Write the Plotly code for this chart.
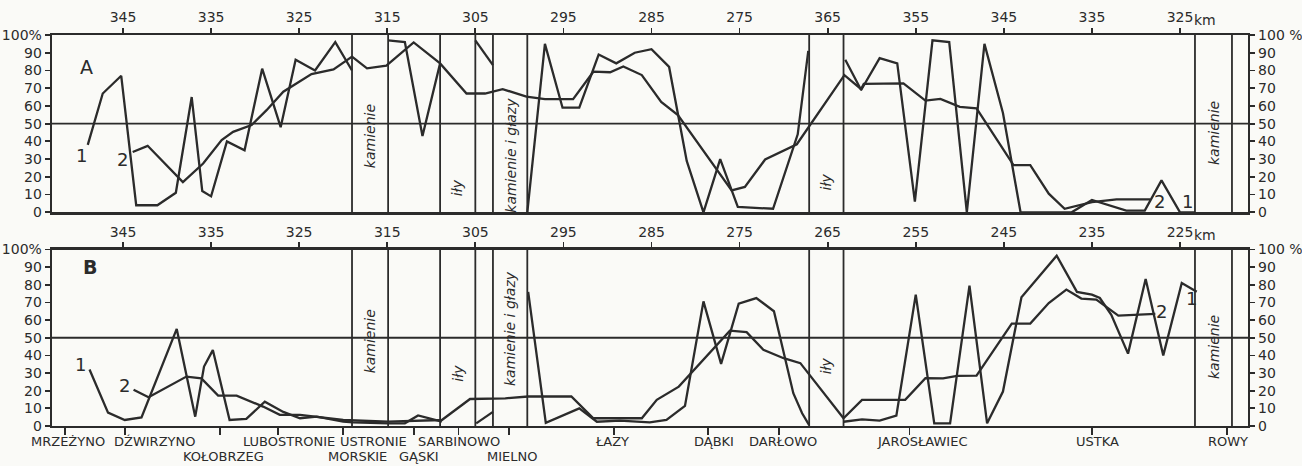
import plotly.graph_objects as go

# ---------------- data ----------------
km_ticks = [345, 335, 325, 315, 305, 295, 285, 275, 265, 255, 245, 235, 225]
km_text_A = ["345", "335", "325", "315", "305", "295", "285", "275", "365", "355", "345", "335", "325"]
km_text_B = ["345", "335", "325", "315", "305", "295", "285", "275", "265", "255", "245", "235", "225"]

pct_ticks = [0, 10, 20, 30, 40, 50, 60, 70, 80, 90, 100]
pct_left = ["0", "10", "20", "30", "40", "50", "60", "70", "80", "90", "100%"]
pct_right = ["0", "10", "20", "30", "40", "50", "60", "70", "80", "90", "100 %"]

zone_edges = [319.0, 314.9, 309.0, 305.0, 303.0, 299.1, 267.1, 263.2, 223.3, 219.1]
zone_names = ["kamienie", "iły", "kamienie i głazy", "iły", "kamienie"]
zone_label_y_A = [43, 14, 32, 17, 45]
zone_label_y_B = [48, 30, 55, 34, 45]

# Panel A, curve 1 (broken at zones)
a1_km = [349.0, 347.3, 345.2, 343.5, 341.1, 339.0, 337.2, 336.0, 335.0, 333.2, 331.2, 329.2, 327.1,
         325.4, 323.2, 320.9, 319.0, None,
         314.9, 313.0, 311.0, 309.0, None,
         305.0, 303.0, None,
         299.1, 297.1, 295.1, 293.2, 291.0, 289.0, 286.9, 285.0, 283.0, 281.0, 279.1, 277.2, 275.2,
         271.2, 268.4, 267.2, None,
         263.0, 261.2, 259.1, 257.1, 255.1, 253.1, 251.2, 249.2, 247.2, 245.1, 243.1, 237.3, 235.0,
         233.0, 231.1, 229.0, 227.1, 225.0, 223.3]
a1_pct = [38, 67, 77, 4, 4, 11, 65, 12, 9, 40, 35, 81, 48,
          86, 80, 96, 80, None,
          97, 96, 43, 84, None,
          97, 83, None,
          0, 95, 59, 59, 89, 84, 90, 92, 82, 29, 0, 30, 3,
          2, 44, 91, None,
          86, 69, 87, 84, 6, 97, 96, 0, 95, 56, 0, 0, 7,
          4, 1, 1, 18, 0, 0]

# Panel A, curve 2
a2_km = [343.9, 342.2, 338.2, 335.9, 333.8, 332.5, 330.4, 328.7, 326.8, 324.7, 323.6, 321.1, 319.0,
         317.3, 315.1, 312.0, 309.0, 306.0, 303.9, 301.9, 299.2, 297.1, 293.9, 291.6, 289.7, 288.2,
         286.1, 283.9, 282.0, 275.9, 274.4, 272.1, 268.5, 263.1, 261.2, 260.9, 256.4, 253.9, 252.2,
         250.0, 248.1, 243.9, 242.0, 239.9, 238.1, 235.0, 232.2, 228.4]
a2_pct = [34, 37.5, 17, 27.5, 40.7, 45.4, 49.2, 57.6, 68, 74.6, 78, 80.6, 87.8,
          81.2, 82.7, 95.8, 84, 67, 67, 69.5, 65.2, 63.8, 63.8, 79.3, 79, 82.3,
          77.4, 62.3, 54.8, 12.4, 14.3, 29.8, 38.4, 77.4, 69.5, 72.4, 72.7, 63, 64,
          59.5, 58.6, 26.6, 26.6, 10.5, 2, 5.8, 7.3, 7.3]

# Panel B, curve 1
b1_km = [348.8, 346.7, 344.8, 342.9, 338.9, 336.8, 335.8, 334.8, 332.9, 331.0, 328.9, 326.8, 324.9,
         323.0, 320.0, 318.9, 314.9, 313.0, 311.5, 308.8, None,
         304.9, 303.0, None,
         299.0, 297.0, 293.2, 291.2, 288.6, 285.2, 283.3, 281.2, 279.1, 277.1, 275.1, 273.1, 271.1,
         268.9, 267.9, 267.1, None,
         263.2, 261.1, 259.1, 257.2, 255.0, 252.9, 251.1, 248.9, 246.9, 245.1, 243.0, 241.1, 239.0,
         236.7, 235.0, 234.1, 232.8, 230.9, 228.9, 226.9, 224.8, 223.1]
b1_pct = [32, 7.6, 3.4, 4.9, 55, 5.3, 33.7, 43, 3.4, 4, 13.8, 8, 4.4,
          5.3, 2.5, 2, 1.5, 1.5, 6, 2.5, None,
          1.5, 8, None,
          76, 1.8, 10, 2.4, 3, 2.1, 3.4, 11.4, 70.6, 35.2, 69.3, 72.5, 65,
          18.6, 7.2, 0.5, None,
          2.4, 3.8, 3, 5.9, 74.4, 1.5, 1.5, 79.5, 1.5, 19.5, 72.9, 83.9, 96.5,
          76, 74.4, 72.5, 63, 41, 83.3, 40, 81, 76]

# Panel B, curve 2
b2_km = [343.8, 342.1, 337.8, 336.1, 334.2, 332.1, 329.1, 327.2, 324.9, 323.0, 320.0, 314.9, 308.8,
         305.6, 304.9, 301.6, 299.0, 294.1, 291.6, 288.6, 286.1, 284.4, 281.9, 276.1, 274.2, 272.3,
         270.0, 268.1, 263.2, 261.1, 256.2, 253.9, 251.9, 250.3, 248.1, 244.1, 242.0, 239.9, 237.9,
         236.2, 234.5, 232.0, 227.8]
b2_pct = [20.5, 16.3, 28, 27, 17.2, 17.2, 11, 6.3, 6.3, 5.3, 3.4, 2.5, 3.4,
          15.3, 15.3, 15.7, 16.7, 16.7, 4.4, 4.4, 4.4, 14.8, 22.3, 54, 53.2, 43.2,
          38.4, 35.6, 4.4, 14.8, 14.8, 27.1, 27, 28.4, 28.5, 58, 58, 69.7, 77.3,
          72.2, 71.6, 62.5, 63.5]

town_names = ["MRZEŻYNO", "DŹWIRZYNO", "KOŁOBRZEG", "LUBOSTRONIE", "USTRONIE", "MORSKIE", "GĄSKI",
              "SARBINOWO", "MIELNO", "ŁAZY", "DĄBKI", "DARŁOWO", "JAROSŁAWIEC", "USTKA", "ROWY"]
town_label_km = [351.2, 341.4, 333.6, 326.2, 316.6, 318.4, 311.4, 306.9, 300.8, 289.5, 277.9, 270.1,
                 254.3, 234.4, 219.5]
town_row = [1, 1, 2, 1, 1, 2, 2, 1, 2, 1, 1, 1, 1, 1, 1]
town_tick_km = [351.6, 344.8, 334.0, 327.4, 320.0, 312.0, 306.9, 301.2, 289.3, 278.6, 270.5, 255.7,
                235.0, 219.7]

# curve-number labels (km, pct, text)
curve_labels_A = [(349.7, 32, "1"), (345.1, 30, "2"), (227.3, 6, "2"), (224.1, 6, "1")]
curve_labels_B = [(349.8, 35, "1"), (344.8, 23, "2"), (227.1, 65, "2"), (223.7, 72, "1")]

unit_km = 223.6  # where the "km" unit text starts

# ---------------- style ----------------
INK = "#2b2b2b"
BG = "#fafaf7"
FONT = "DejaVu Sans"
X_RANGE = [353.06, 217.28]
LW = 2.3

fig = go.Figure()
line_style = dict(color=INK, width=LW)
fig.add_trace(go.Scatter(x=a1_km, y=a1_pct, mode="lines", line=line_style, xaxis="x", yaxis="y",
                         hoverinfo="skip", showlegend=False))
fig.add_trace(go.Scatter(x=a2_km, y=a2_pct, mode="lines", line=line_style, xaxis="x", yaxis="y3",
                         hoverinfo="skip", showlegend=False))
fig.add_trace(go.Scatter(x=b1_km, y=b1_pct, mode="lines", line=line_style, xaxis="x2", yaxis="y2",
                         hoverinfo="skip", showlegend=False))
fig.add_trace(go.Scatter(x=b2_km, y=b2_pct, mode="lines", line=line_style, xaxis="x3", yaxis="y4",
                         hoverinfo="skip", showlegend=False))

tickfont = dict(family=FONT, size=14, color=INK)
common_x = dict(range=X_RANGE, showgrid=False, zeroline=False, showline=True, linecolor=INK,
                linewidth=LW, ticks="outside", ticklen=5, tickwidth=1.8, tickcolor=INK,
                tickfont=tickfont, fixedrange=True, automargin=False)
common_y = dict(range=[0, 100], showgrid=False, zeroline=False, showline=True, linecolor=INK,
                linewidth=LW, ticks="outside", ticklen=5, tickwidth=1.8, tickcolor=INK,
                tickfont=tickfont, tickvals=pct_ticks, fixedrange=True, automargin=False)

DOM_A = [0.5465, 1.0]
DOM_B = [0.0, 0.4514]

fig.update_layout(
    width=1302, height=466,
    margin=dict(l=52, r=54, t=35, b=40, autoexpand=False),
    paper_bgcolor=BG, plot_bgcolor=BG,
    font=dict(family=FONT, color=INK),
    xaxis=dict(common_x, domain=[0, 1], anchor="y", side="top", mirror=True,
               tickvals=km_ticks, ticktext=km_text_A),
    yaxis=dict(common_y, domain=DOM_A, anchor="x", side="left", ticktext=pct_left),
    yaxis3=dict(common_y, overlaying="y", anchor="x", side="right", ticktext=pct_right),
    xaxis2=dict(common_x, domain=[0, 1], anchor="y2", side="top",
                tickvals=km_ticks, ticktext=km_text_B),
    yaxis2=dict(common_y, domain=DOM_B, anchor="x2", side="left", ticktext=pct_left),
    yaxis4=dict(common_y, overlaying="y2", anchor="x2", side="right", ticktext=pct_right),
    xaxis3=dict(common_x, overlaying="x2", anchor="y2", side="bottom", ticklen=7,
                tickvals=town_tick_km, ticktext=[""] * len(town_tick_km)),
)

shapes = []
for xr, yr in (("x", "y"), ("x2", "y2")):
    shapes.append(dict(type="line", xref=f"{xr} domain", x0=0, x1=1, yref=yr, y0=50, y1=50,
                       line=dict(color=INK, width=1.8)))
    for e in zone_edges:
        shapes.append(dict(type="line", xref=xr, x0=e, x1=e, yref=f"{yr} domain", y0=0, y1=1,
                           line=dict(color=INK, width=1.8)))
fig.update_layout(shapes=shapes)

ann = []
zfont = dict(family=FONT, size=14, color=INK, style="italic")
for i, name in enumerate(zone_names):
    xc = (zone_edges[2 * i] + zone_edges[2 * i + 1]) / 2
    ann.append(dict(x=xc, y=zone_label_y_A[i], xref="x", yref="y", text=name, textangle=-90,
                    showarrow=False, font=zfont))
    ann.append(dict(x=xc, y=zone_label_y_B[i], xref="x2", yref="y2", text=name, textangle=-90,
                    showarrow=False, font=zfont))

nfont = dict(family=FONT, size=18, color=INK)
for x, y, t in curve_labels_A:
    ann.append(dict(x=x, y=y, xref="x", yref="y", text=t, showarrow=False, font=nfont))
for x, y, t in curve_labels_B:
    ann.append(dict(x=x, y=y, xref="x2", yref="y2", text=t, showarrow=False, font=nfont))

ann.append(dict(x=0.0217, y=0.951, xref="paper", yref="paper", text="A", showarrow=False,
                font=dict(family=FONT, size=19, color=INK)))
ann.append(dict(x=0.0242, y=0.4066, xref="paper", yref="paper", text="<b>B</b>", showarrow=False,
                font=dict(family=FONT, size=19, color=INK)))

# "km" unit next to the last km tick on each top axis
ann.append(dict(x=unit_km, xref="x", y=DOM_A[1], yref="paper", yshift=15, xanchor="left",
                yanchor="middle", text="km", showarrow=False, font=tickfont))
ann.append(dict(x=unit_km, xref="x2", y=DOM_B[1], yref="paper", yshift=15, xanchor="left",
                yanchor="middle", text="km", showarrow=False, font=tickfont))

row_y = {1: -0.039, 2: -0.077}
for name, xk, r in zip(town_names, town_label_km, town_row):
    ann.append(dict(x=xk, y=row_y[r], xref="x2", yref="paper", text=name, showarrow=False,
                    font=dict(family=FONT, size=13, color=INK), yanchor="middle"))

fig.update_layout(annotations=ann)
fig.write_html("out.html", config={"displayModeBar": False, "staticPlot": True},
               post_script="document.body.style.margin='0px';document.body.style.overflow='hidden';")
